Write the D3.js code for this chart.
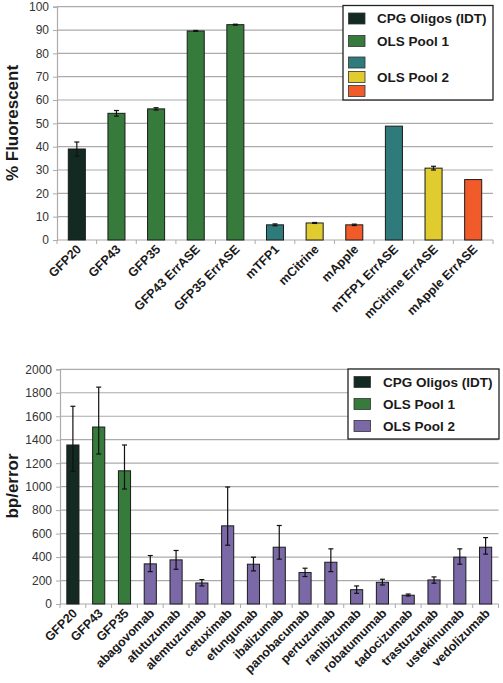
<!DOCTYPE html>
<html><head><meta charset="utf-8">
<script src="https://cdn.jsdelivr.net/npm/d3@7"></script>
<style>body{margin:0;background:#fff}svg{display:block}text{font-family:"Liberation Sans",Arial,sans-serif}</style>
</head><body><svg id="c" width="503" height="683"></svg>
<script>
// ---- Top chart data ----
const topCats = ["GFP20","GFP43","GFP35","GFP43 ErrASE","GFP35 ErrASE","mTFP1","mCitrine","mApple","mTFP1 ErrASE","mCitrine ErrASE","mApple ErrASE"];
const topValues = [39,54.3,56.2,89.6,92.3,6.5,7.3,6.5,48.8,30.8,25.9];
const topErrors = [3,1.2,0.5,0.2,0.2,0.4,0.2,0.3,0,0.8,0];
const topGroups = ["cpg","pool1","pool1","pool1","pool1","teal","yellow","red","teal","yellow","red"];
const topTicks = [0,10,20,30,40,50,60,70,80,90,100];

// ---- Bottom chart data ----
const botCats = ["GFP20","GFP43","GFP35","abagovomab","afutuzumab","alemtuzumab","cetuximab","efungumab","ibalizumab","panobacumab","pertuzumab","ranibizumab","robatumumab","tadocizumab","trastuzumab","ustekinumab","vedolizumab"];
const botValues = [1355,1508,1135,342,376,179,666,339,484,268,356,122,185,75,205,399,484];
const botErrHigh = [330,340,220,71,80,29,331,60,185,37,114,32,26,10,26,71,82];
const botErrLow = [225,230,155,66,80,25,165,57,102,34,80,31,23,7,28,60,59];
const botGroups = ["cpg","pool1","pool1","pool2","pool2","pool2","pool2","pool2","pool2","pool2","pool2","pool2","pool2","pool2","pool2","pool2","pool2"];
const botTicks = [0,200,400,600,800,1000,1200,1400,1600,1800,2000];

const colors = {cpg:"#132a22", pool1:"#367b3b", teal:"#2f7a7b", yellow:"#e0cc2f", red:"#f15a29", pool2:"#7b68a6"};
const topLegend = [{k:"cpg",t:"CPG Oligos (IDT)"},{k:"pool1",t:"OLS Pool 1"},{k:"teal",t:""},{k:"yellow",t:"OLS Pool 2"},{k:"red",t:""}];
const botLegend = [{k:"cpg",t:"CPG Oligos (IDT)"},{k:"pool1",t:"OLS Pool 1"},{k:"pool2",t:"OLS Pool 2"}];

const svg = d3.select("#c");
const gridCol = "#ababab";

function chart(o){
  const g = svg.append("g");
  const x = d3.scaleBand().domain(o.cats).range([o.x0,o.x1]).paddingInner(o.pad).paddingOuter(o.pad/2);
  const y = d3.scaleLinear().domain([0,o.ymax]).range([o.y0,o.y1]);
  // gridlines
  g.selectAll(".grid").data(o.ticks.filter(t=>t>0)).join("line")
    .attr("x1",o.x0).attr("x2",o.x1).attr("y1",d=>y(d)).attr("y2",d=>y(d))
    .attr("stroke",gridCol).attr("stroke-width",1.2);
  // y axis
  const ya = g.append("g").attr("transform",`translate(${o.x0},0)`)
    .call(d3.axisLeft(y).tickValues(o.ticks).tickFormat(d3.format("d")).tickSize(4).tickPadding(4));
  ya.select(".domain").attr("stroke",gridCol).attr("stroke-width",1.2);
  ya.selectAll(".tick line").attr("stroke",gridCol);
  ya.selectAll("text").attr("font-size",12).attr("fill","#333");
  // x axis
  const xa = g.append("g").attr("transform",`translate(0,${o.y0})`);
  xa.append("line").attr("x1",o.x0).attr("x2",o.x1).attr("stroke",gridCol).attr("stroke-width",1.2);
  const bounds = o.cats.map(c=>x(c)-x.step()*x.paddingInner()/2).concat([o.x1]);
  xa.selectAll(".bt").data(bounds).join("line")
    .attr("x1",d=>d).attr("x2",d=>d).attr("y1",0).attr("y2",4).attr("stroke",gridCol);
  // bars
  g.selectAll(".bar").data(o.cats).join("rect")
    .attr("x",d=>x(d)).attr("width",x.bandwidth())
    .attr("y",(d,i)=>y(o.vals[i])).attr("height",(d,i)=>o.y0-y(o.vals[i]))
    .attr("fill",(d,i)=>colors[o.groups[i]]).attr("stroke","#1b1b1b").attr("stroke-width",1);
  // error bars
  const eb = g.selectAll(".eb").data(o.cats).join("g").attr("transform",d=>`translate(${x(d)+x.bandwidth()/2},0)`);
  eb.each(function(d,i){
    const hi=o.errHi[i], lo=o.errLo[i];
    if(!hi && !lo) return;
    const s=d3.select(this), top=y(o.vals[i]+hi), bot=y(o.vals[i]-lo);
    s.append("line").attr("y1",top).attr("y2",bot).attr("stroke","#111").attr("stroke-width",1.2);
    s.append("line").attr("x1",-2.5).attr("x2",2.5).attr("y1",top).attr("y2",top).attr("stroke","#111").attr("stroke-width",1.2);
    s.append("line").attr("x1",-2.5).attr("x2",2.5).attr("y1",bot).attr("y2",bot).attr("stroke","#111").attr("stroke-width",1.2);
  });
  // x labels
  g.selectAll(".xl").data(o.cats).join("text")
    .attr("transform",d=>`translate(${x(d)+x.bandwidth()/2+o.lx},${o.y0+o.ly}) rotate(-45)`)
    .attr("text-anchor","end").attr("font-size",o.lfs).attr("font-weight","bold").attr("fill","#1a1a1a")
    .text(d=>d);
  // y title
  g.append("text").attr("transform",`translate(18,${o.ty}) rotate(-90)`)
    .attr("text-anchor","middle").attr("font-size",17).attr("font-weight","bold").attr("fill","#1a1a1a").text(o.title);
  // legend
  const L = o.leg;
  g.append("rect").attr("x",L.x).attr("y",L.y).attr("width",L.w).attr("height",L.h)
    .attr("fill","#fff").attr("stroke","#222").attr("stroke-width",1.3);
  L.items.forEach((it,i)=>{
    const cy = L.rows[i];
    g.append("rect").attr("x",L.sx).attr("y",cy-5.5).attr("width",16.5).attr("height",11)
      .attr("fill",colors[it.k]).attr("stroke","#333").attr("stroke-width",0.8);
  });
  L.texts.forEach(t=>{
    g.append("text").attr("x",L.tx).attr("y",t.y).attr("dy","0.35em").attr("font-size",13.5)
      .attr("font-weight","bold").attr("fill","#1a1a1a").text(t.t);
  });
}

chart({cats:topCats, vals:topValues, errHi:topErrors, errLo:topErrors, groups:topGroups, ticks:topTicks,
  x0:57, x1:493, y0:240, y1:6.7, ymax:100, pad:0.57, lx:5, ly:10, lfs:12.5, title:"% Fluorescent", ty:123,
  leg:{x:343, y:5.5, w:150, h:94.5, sx:348.5, tx:377, rows:[18.5,41,62.5,77,91],
       items:topLegend, texts:[{t:"CPG Oligos (IDT)",y:18.5},{t:"OLS Pool 1",y:41},{t:"OLS Pool 2",y:77}]}});

chart({cats:botCats, vals:botValues, errHi:botErrHigh, errLo:botErrLow, groups:botGroups, ticks:botTicks,
  x0:60, x1:498.5, y0:604, y1:369.3, ymax:2000, pad:0.53, lx:5, ly:10, lfs:12.5, title:"bp/error", ty:486,
  leg:{x:348, y:369, w:151, h:70, sx:354, tx:383, rows:[382,404,426],
       items:botLegend, texts:botLegend.map((d,i)=>({t:d.t,y:[382,404,426][i]}))}});
</script></body></html>
